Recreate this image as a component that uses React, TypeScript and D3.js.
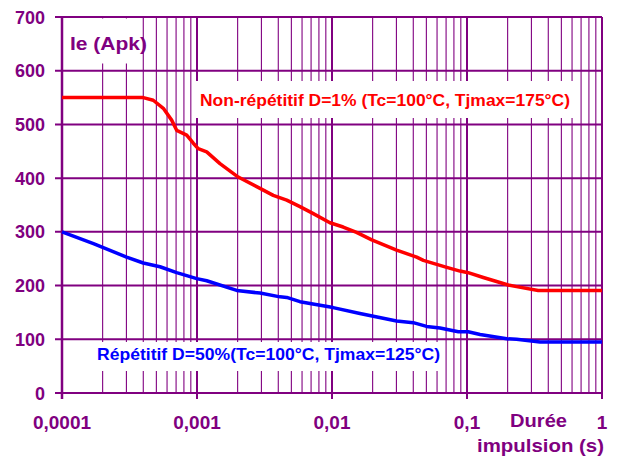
import React from "react";
import * as d3 from "d3";

const W = 620;
const H = 461;
const margin = { left: 62, right: 18, top: 17, bottom: 68 };

const xTickValues = [0.0001, 0.001, 0.01, 0.1, 1];
const xTickLabels = ["0,0001", "0,001", "0,01", "0,1", "1"];
const yTickValues = [0, 100, 200, 300, 400, 500, 600, 700];

const redT = [1e-4, 4.0e-4, 4.74e-4, 5.63e-4, 6.49e-4, 7.07e-4, 8.39e-4, 9.39e-4, 1.02e-3, 1.18e-3, 1.48e-3, 2.02e-3, 2.93e-3, 3.67e-3, 4.62e-3, 5.79e-3, 7.27e-3, 9.66e-3, 1.21e-2, 1.52e-2, 1.97e-2, 3.01e-2, 4.24e-2, 4.75e-2, 7.08e-2, 8.88e-2, 0.102, 0.132, 0.202, 0.233, 0.337, 1];
const redI = [550, 550, 545, 530, 508, 489, 480, 465, 455, 449, 427, 402, 381, 368, 359, 347, 334, 317, 309, 299, 285, 266, 253, 247, 234, 227, 224, 215, 201, 198, 191, 191];

const blueT = [1e-4, 1.71e-4, 3.01e-4, 4.0e-4, 5.32e-4, 7.07e-4, 9.95e-4, 1.18e-3, 1.97e-3, 2.93e-3, 4.12e-3, 4.62e-3, 5.79e-3, 1.02e-2, 1.61e-2, 3.01e-2, 4.0e-2, 5.02e-2, 6.31e-2, 8.63e-2, 0.102, 0.125, 0.197, 0.233, 0.347, 1];
const blueI = [300, 278, 253, 242, 235, 224, 213, 209, 191, 186, 179, 178, 170, 159, 148, 134, 131, 124, 121, 114, 114, 109, 101, 100, 95, 95];

const PURPLE = "#800080";
const FONT = "'Liberation Sans', Arial, sans-serif";

export default function App() {
  const x = d3.scaleLog().domain([1e-4, 1]).range([margin.left, W - margin.right]);
  const y = d3.scaleLinear().domain([0, 700]).range([H - margin.bottom, margin.top]);
  const y0 = y(0);
  const y700 = y(700);

  const minor: number[] = [];
  for (let e = -4; e < 0; e++) {
    for (let k = 2; k <= 9; k++) minor.push(k * Math.pow(10, e));
  }

  const line = d3
    .line<[number, number]>()
    .x((d) => x(d[0]))
    .y((d) => y(d[1]));

  const redPts = redT.map((t, i) => [t, redI[i]] as [number, number]);
  const bluePts = blueT.map((t, i) => [t, blueI[i]] as [number, number]);

  return (
    <svg
      width={W}
      height={H}
      style={{ position: "absolute", left: 0, top: 0, background: "#fff" }}
      fontFamily={FONT}
      fontWeight="bold"
    >
      {/* minor vertical grid */}
      {minor.map((v, i) => (
        <line key={"m" + i} x1={x(v)} x2={x(v)} y1={y700} y2={y0} stroke={PURPLE} strokeWidth={1.1} />
      ))}
      {/* major vertical grid */}
      {xTickValues.map((v, i) => (
        <line key={"M" + i} x1={x(v)} x2={x(v)} y1={y700} y2={y0 + 6} stroke={PURPLE} strokeWidth={2} />
      ))}
      {/* horizontal grid */}
      {yTickValues.map((v, i) => (
        <line key={"h" + i} x1={margin.left - 7} x2={x(1)} y1={y(v)} y2={y(v)} stroke={PURPLE} strokeWidth={2} />
      ))}
      {/* left axis */}
      <line x1={margin.left} x2={margin.left} y1={y700 - 1} y2={y0 + 6} stroke={PURPLE} strokeWidth={2.5} />

      {/* label boxes */}
      <rect x={64} y={y700 + 1.5} width={76} height={45} fill="#fff" />
      <rect x={195} y={81} width={382} height={37} fill="#fff" />
      <rect x={93} y={342} width={349} height={29} fill="#fff" />

      {/* curves */}
      <path d={line(redPts) || ""} fill="none" stroke="#ff0000" strokeWidth={3.5} strokeLinejoin="round" />
      <path d={line(bluePts) || ""} fill="none" stroke="#0000ff" strokeWidth={3.5} strokeLinejoin="round" />

      {/* y tick labels */}
      {yTickValues.map((v, i) => (
        <text key={"yl" + i} x={45} y={y(v) + 6.5} textAnchor="end" fontSize={18} fill={PURPLE}>
          {v}
        </text>
      ))}
      {/* x tick labels */}
      {xTickValues.map((v, i) => (
        <text key={"xl" + i} x={x(v)} y={429} textAnchor="middle" fontSize={19} fill={PURPLE}>
          {xTickLabels[i]}
        </text>
      ))}

      <text x={70} y={50} fontSize={19} fill={PURPLE} textLength={77} lengthAdjust="spacingAndGlyphs">
        Ie (Apk)
      </text>
      <text x={510} y={427} fontSize={19} fill={PURPLE} textLength={57} lengthAdjust="spacingAndGlyphs">
        Durée
      </text>
      <text x={477} y={452} fontSize={19} fill={PURPLE} textLength={127} lengthAdjust="spacingAndGlyphs">
        impulsion (s)
      </text>

      <text x={200} y={106} fontSize={16.5} fill="#ff0000" textLength={370} lengthAdjust="spacingAndGlyphs">
        Non-répétitif D=1% (Tc=100°C, Tjmax=175°C)
      </text>
      <text x={97} y={360} fontSize={16.5} fill="#0000ff" textLength={343} lengthAdjust="spacingAndGlyphs">
        Répétitif D=50%(Tc=100°C, Tjmax=125°C)
      </text>
    </svg>
  );
}
